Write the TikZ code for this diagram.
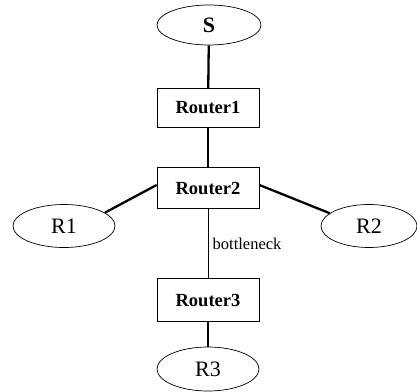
\documentclass[tikz,border=0pt]{standalone}
\usepackage{fontspec}
\setmainfont{Liberation Serif}
\usetikzlibrary{shapes.geometric}

\tikzset{
	router/.style={draw, rectangle, line width=0.8pt, minimum width=102pt, minimum height=41pt, font=\fontsize{18.5}{20}\selectfont\bfseries},
	host/.style={draw, ellipse, line width=0.7pt, minimum width=102pt, minimum height=42pt, font=\fontsize{22}{24}\selectfont},
	link/.style={line width=2.3pt},
	thinlink/.style={line width=0.8pt}
}

\begin{document}
\begin{tikzpicture}[x=1pt, y=1pt]
		\useasboundingbox (0,0) rectangle (417,391);

		% Source
		\node[host, minimum width=104pt, minimum height=40pt, font=\fontsize{22}{24}\selectfont\bfseries] (s) at (209,366) {S};

		% Routers
		\node[router, minimum height=39pt] (router1) at (208,283) {Router1};
		\node[router] (router2) at (208,203) {Router2};
		\node[router, minimum height=43pt] (router3) at (208,91) {Router3};

		% Receivers
		\node[host, minimum height=43pt] (r1) at (64,165) {R1};
		\node[host, minimum width=96pt, minimum height=43pt] (r2) at (369,165) {R2};
		\node[host, minimum height=44pt] (r3) at (208,22) {R3};

		% Links
		\draw[link] (s) -- (router1);
		\draw[link] (router1) -- (router2);
		\draw[link] ([yshift=3pt]router2.west) -- (r1.18);
		\draw[link] ([yshift=3pt]router2.east) -- (r2.162);
		\draw[thinlink] (router2) -- node[right, font=\fontsize{16.5}{18}\selectfont, xshift=1pt] (bneck) {bottleneck} (router3);
		\draw[link] (router3) -- (r3);
	\end{tikzpicture}
\end{document}
